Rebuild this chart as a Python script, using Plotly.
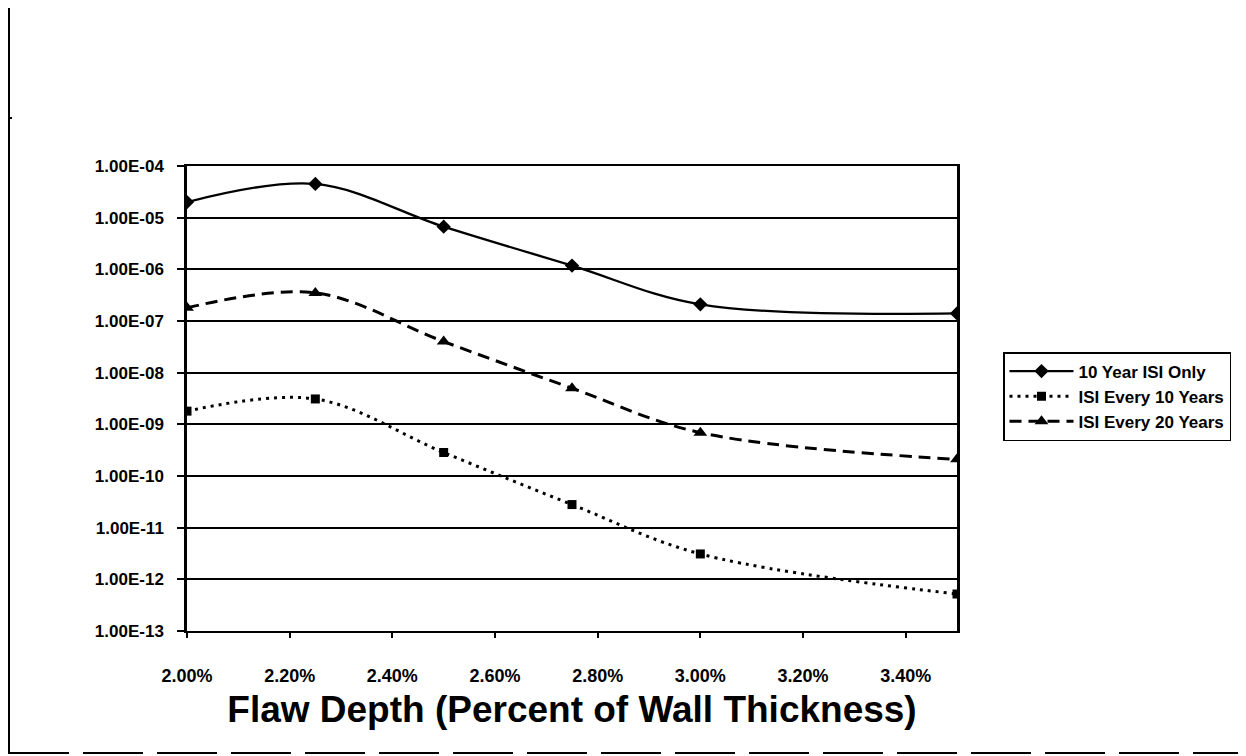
import plotly.graph_objects as go

# ---- data ----
flaw_depth = [0.0200, 0.0225, 0.0250, 0.0275, 0.0300, 0.0350]
isi_10yr_only = [2.0e-5, 4.5e-5, 6.7e-6, 1.18e-6, 2.1e-7, 1.4e-7]
isi_every_10 = [1.8e-9, 3.1e-9, 2.85e-10, 2.8e-11, 3.1e-12, 5.2e-13]
isi_every_20 = [1.8e-7, 3.5e-7, 4.0e-8, 5.0e-9, 6.9e-10, 2.1e-10]

series_names = ["10 Year ISI Only", "ISI Every 10 Years", "ISI Every 20 Years"]
y_tick_vals = [1e-4, 1e-5, 1e-6, 1e-7, 1e-8, 1e-9, 1e-10, 1e-11, 1e-12, 1e-13]
y_tick_text = ["1.00E-04", "1.00E-05", "1.00E-06", "1.00E-07", "1.00E-08",
               "1.00E-09", "1.00E-10", "1.00E-11", "1.00E-12", "1.00E-13"]
x_title = "Flaw Depth (Percent of Wall Thickness)"

FONT = "Arial, Liberation Sans, Helvetica, sans-serif"

fig = go.Figure()
fig.add_trace(go.Scatter(
    x=flaw_depth, y=isi_10yr_only, name=series_names[0], mode="lines+markers",
    line=dict(color="black", width=2.3, shape="spline", smoothing=1.0),
    marker=dict(symbol="diamond", size=11, color="black"),
))
fig.add_trace(go.Scatter(
    x=flaw_depth, y=isi_every_10, name=series_names[1], mode="lines+markers",
    line=dict(color="black", width=3, dash="3px,5px", shape="spline", smoothing=1.0),
    marker=dict(symbol="square", size=9, color="black"),
))
fig.add_trace(go.Scatter(
    x=flaw_depth, y=isi_every_20, name=series_names[2], mode="lines+markers",
    line=dict(color="black", width=3, dash="12px,7px", shape="spline", smoothing=1.0),
    marker=dict(symbol="triangle-up", size=12, color="black"),
))

# target page-pixel positions of the plot area; page has an 8px body offset
OFF = 8
L, R, T, B = 187, 957, 166, 631
W, H = 1246 - OFF, 756 - OFF

def px(xp):
    return (xp - L) / (R - L)

def py(yp):
    return (B - yp) / (B - T)

shapes = [
    dict(type="line", xref="paper", yref="paper", x0=px(9), x1=px(9), y0=py(OFF), y1=py(754),
         line=dict(color="black", width=2)),
    dict(type="line", xref="paper", yref="paper", x0=px(OFF), x1=px(12), y0=py(118), y1=py(118),
         line=dict(color="black", width=2)),
    dict(type="line", xref="paper", yref="paper", x0=px(9), x1=px(1246), y0=py(753), y1=py(753),
         line=dict(color="black", width=2, dash="60px,14px")),
]

fig.update_layout(
    width=W, height=H,
    margin=dict(l=L - OFF, r=W - (R - OFF), t=T - OFF, b=H - (B - OFF)),
    paper_bgcolor="white", plot_bgcolor="white",
    font=dict(family=FONT, color="black"),
    showlegend=True,
    legend=dict(
        x=px(1003), y=py(352), xanchor="left", yanchor="top",
        bordercolor="black", borderwidth=1.5, bgcolor="white",
        font=dict(family=FONT, size=17, color="black", weight="bold"),
        itemwidth=64, tracegroupgap=0,
    ),
    shapes=shapes,
    xaxis=dict(
        range=[0.02, 0.035], tick0=0.02, dtick=0.002, tickformat=".2%",
        showgrid=False, zeroline=False,
        showline=True, linecolor="black", linewidth=2, mirror=True,
        ticks="outside", ticklen=5, tickcolor="black", tickwidth=1.5,
        ticklabelstandoff=22,
        tickfont=dict(family=FONT, size=18, color="black", weight="bold"),
        title=dict(text=x_title, standoff=12,
                   font=dict(family=FONT, size=37, color="black", weight="bold")),
    ),
    yaxis=dict(
        type="log", range=[-13, -4],
        tickvals=y_tick_vals, ticktext=y_tick_text,
        showgrid=True, gridcolor="black", gridwidth=2,
        zeroline=False,
        showline=True, linecolor="black", linewidth=2.5, mirror=True,
        ticks="outside", ticklen=7, tickcolor="black", tickwidth=1.5,
        ticklabelposition="outside", ticklabelstandoff=10,
        tickfont=dict(family=FONT, size=17, color="black", weight="bold"),
    ),
)

fig.write_html("out.html")
